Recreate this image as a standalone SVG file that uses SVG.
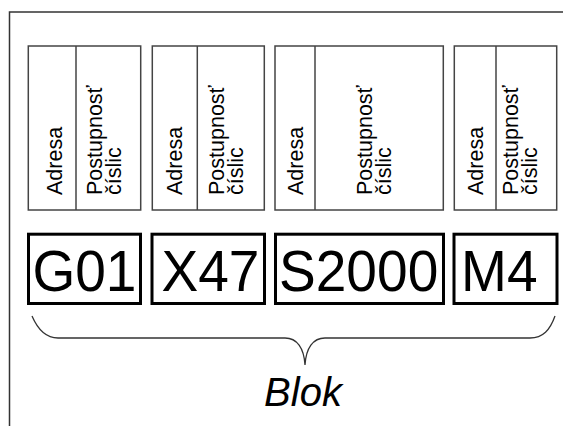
<svg xmlns="http://www.w3.org/2000/svg" width="563" height="426" viewBox="0 0 563 426">
<style>
.frame{fill:none;stroke:#333;stroke-width:1.5}
.cell{fill:#fff;stroke:#444;stroke-width:1.5}
.div{stroke:#444;stroke-width:1.5}
.vt{font-family:"Liberation Sans",Arial,sans-serif;font-size:21.5px;fill:#000}
.code{fill:#fff;stroke:#000;stroke-width:3}
.ct{font-family:"Liberation Sans",Arial,sans-serif;font-size:58px;fill:#000}
.brace{fill:none;stroke:#333;stroke-width:1.3}
.lbl{font-family:"Liberation Sans",Arial,sans-serif;font-size:40px;font-style:italic;fill:#000}
</style>
<rect width="563" height="426" fill="#fff"/>
<path class="frame" d="M9.5,430 V12 H570"/>

<g id="field-g">
  <rect class="cell" x="28.3" y="46" width="112.4" height="164"/>
  <line class="div" x1="76" y1="46" x2="76" y2="210"/>
  <text class="vt" transform="translate(61.7,195) rotate(-90)">Adresa</text>
  <text class="vt" transform="translate(102.3,195) rotate(-90)">Postupnosť</text>
  <text class="vt" transform="translate(120.8,195) rotate(-90)">číslic</text>
</g>
<g id="field-x">
  <rect class="cell" x="152.3" y="46" width="112" height="164"/>
  <line class="div" x1="197.3" y1="46" x2="197.3" y2="210"/>
  <text class="vt" transform="translate(181.7,195) rotate(-90)">Adresa</text>
  <text class="vt" transform="translate(224.3,195) rotate(-90)">Postupnosť</text>
  <text class="vt" transform="translate(242.8,195) rotate(-90)">číslic</text>
</g>
<g id="field-s">
  <rect class="cell" x="275" y="46" width="168.3" height="164"/>
  <line class="div" x1="315" y1="46" x2="315" y2="210"/>
  <text class="vt" transform="translate(303.3,195) rotate(-90)">Adresa</text>
  <text class="vt" transform="translate(372.3,195) rotate(-90)">Postupnosť</text>
  <text class="vt" transform="translate(390.8,195) rotate(-90)">číslic</text>
</g>
<g id="field-m">
  <rect class="cell" x="454.3" y="46" width="102.4" height="164"/>
  <line class="div" x1="496" y1="46" x2="496" y2="210"/>
  <text class="vt" transform="translate(482.7,195) rotate(-90)">Adresa</text>
  <text class="vt" transform="translate(518.3,195) rotate(-90)">Postupnosť</text>
  <text class="vt" transform="translate(536.8,195) rotate(-90)">číslic</text>
</g>

<g id="word-g01">
  <rect class="code" x="28.5" y="234.2" width="112" height="69.3"/>
  <text class="ct" transform="translate(32.4,291) scale(0.95,1)">G01</text>
</g>
<g id="word-x47">
  <rect class="code" x="152" y="234.2" width="112.5" height="69.3"/>
  <text class="ct" transform="translate(161.5,291) scale(0.95,1)">X47</text>
</g>
<g id="word-s2000">
  <rect class="code" x="275.5" y="234.2" width="168" height="69.3"/>
  <text class="ct" transform="translate(279,291) scale(0.95,1)">S2000</text>
</g>
<g id="word-m4">
  <rect class="code" x="454" y="234.2" width="103" height="69.3"/>
  <text class="ct" transform="translate(461,291) scale(0.95,1)">M4</text>
</g>

<g id="connectors">
  <path class="brace" d="M32,316 C38,330 46,338 58,338 L285,338 C297,338 304,348 305,365 C306,348 313,338 325,338 L530,338 C543,338 550,330 555,316"/>
</g>
<g id="label-blok">
  <text class="lbl" x="303" y="406" text-anchor="middle">Blok</text>
</g>
</svg>
